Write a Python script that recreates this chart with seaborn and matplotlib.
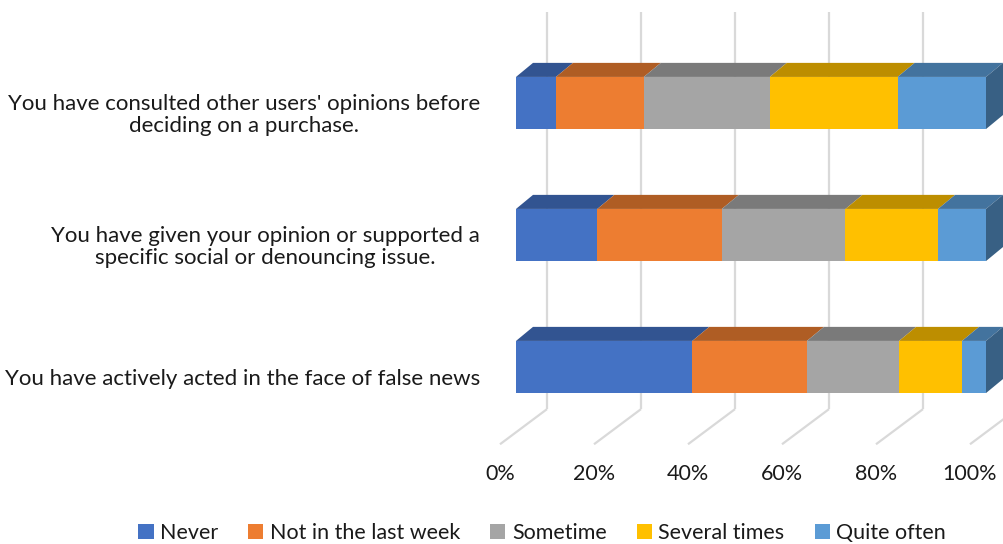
import numpy as np
import pandas as pd
import matplotlib
matplotlib.use("Agg")
import matplotlib.pyplot as plt
import seaborn as sns
from matplotlib.patches import Polygon
from matplotlib.colors import to_rgb

# ---------------- data ----------------
categories = [
    "You have consulted other users' opinions before\ndeciding on a purchase.",
    "You have given your opinion or supported a\nspecific social or denouncing issue.",
    "You have actively acted in the face of false news",
]
series = ["Never", "Not in the last week", "Sometime", "Several times", "Quite often"]
never = [8.5, 17.3, 37.5]
not_last_week = [18.7, 26.5, 24.4]
sometime = [26.8, 26.3, 19.6]
several_times = [27.2, 19.7, 13.4]
quite_often = [18.8, 10.2, 5.1]
colors = ["#4472C4", "#ED7D31", "#A5A5A5", "#FFC000", "#5B9BD5"]
tick_values = [0, 20, 40, 60, 80, 100]
tick_labels = ["0%", "20%", "40%", "60%", "80%", "100%"]

values = np.array([never, not_last_week, sometime, several_times, quite_often])
values = values / values.sum(axis=0) * 100
cum = np.cumsum(values, axis=0)

sns.set_theme(style="white")
plt.rcParams["font.family"] = ["Lato", "DejaVu Sans"]

W, H = 1004, 544
fig = plt.figure(figsize=(W / 100, H / 100), dpi=100)
# front plane of bars
ax_left, ax_right, ax_top, ax_bot = 516, 986, 37, 433
ax = fig.add_axes([ax_left / W, 1 - ax_bot / H, (ax_right - ax_left) / W, (ax_bot - ax_top) / H])
ylim = (2.494, -0.517)
ax.set_xlim(0, 100)
ax.set_ylim(*ylim)
sx = 100 / (ax_right - ax_left)
sy = (ylim[0] - ylim[1]) / (ax_bot - ax_top)

bar_w = 0.395
# stacked front faces (cumulative trick, longest first)
for k in range(len(series) - 1, -1, -1):
    df = pd.DataFrame({"cat": categories, "val": cum[k]})
    sns.barplot(data=df, x="val", y="cat", orient="h", color=colors[k], saturation=1,
                width=bar_w, linewidth=0, ax=ax, zorder=3)


def shade(c, f):
    r, g, b = to_rgb(c)
    return (r * f, g * f, b * f)


# 3D depth of bars
bdx, bdy = 17 * sx, 14 * sy
for i in range(len(categories)):
    ytop = i - bar_w / 2
    ybot = i + bar_w / 2
    for k in range(len(series)):
        x0 = cum[k - 1][i] if k > 0 else 0
        x1 = cum[k][i]
        top = Polygon([(x0, ytop), (x1, ytop), (x1 + bdx, ytop - bdy), (x0 + bdx, ytop - bdy)],
                      closed=True, facecolor=shade(colors[k], 0.74), edgecolor="none",
                      clip_on=False, zorder=2)
        ax.add_patch(top)
    xe = cum[-1][i]
    side = Polygon([(xe, ytop), (xe + bdx, ytop - bdy), (xe + bdx, ybot - bdy), (xe, ybot)],
                   closed=True, facecolor=shade(colors[-1], 0.62), edgecolor="none",
                   clip_on=False, zorder=2)
    ax.add_patch(side)

# walls / floor grid
wdx, wdy = 31 * sx, 23 * sy      # back wall offset from bar front plane
fdx, fdy = -16 * sx, 12 * sy     # floor front offset from bar front plane
gcol = "#D9D9D9"
for v in tick_values:
    ax.plot([v + wdx, v + wdx], [ylim[1] - wdy, ylim[0] - wdy], color=gcol, lw=1.6,
            clip_on=False, zorder=1, solid_capstyle="butt")
    ax.plot([v + wdx, v + fdx], [ylim[0] - wdy, ylim[0] + fdy], color=gcol, lw=1.6,
            clip_on=False, zorder=1, solid_capstyle="butt")

for v, lab in zip(tick_values, tick_labels):
    ax.text(v + fdx, ylim[0] + fdy + 30 * sy, lab, ha="center", va="center",
            fontsize=15.5, color="#1a1a1a", clip_on=False)

for i, lab in enumerate(categories):
    ax.text(fdx - 20 * sx, i + fdy, lab, ha="right", va="center", multialignment="center",
            fontsize=16, color="#1a1a1a", clip_on=False, linespacing=1.15)

ax.set_axis_off()

handles = [plt.Rectangle((0, 0), 1, 1, facecolor=c, edgecolor="none") for c in colors]
fig.legend(handles, series, loc="center", bbox_to_anchor=(0.54, 1 - 533 / H), ncol=5,
           frameon=False, fontsize=15.5, handlelength=0.7, handleheight=0.7,
           handletextpad=0.3, columnspacing=1.4, labelcolor="#1a1a1a")

fig.savefig("out.png", dpi=100)
